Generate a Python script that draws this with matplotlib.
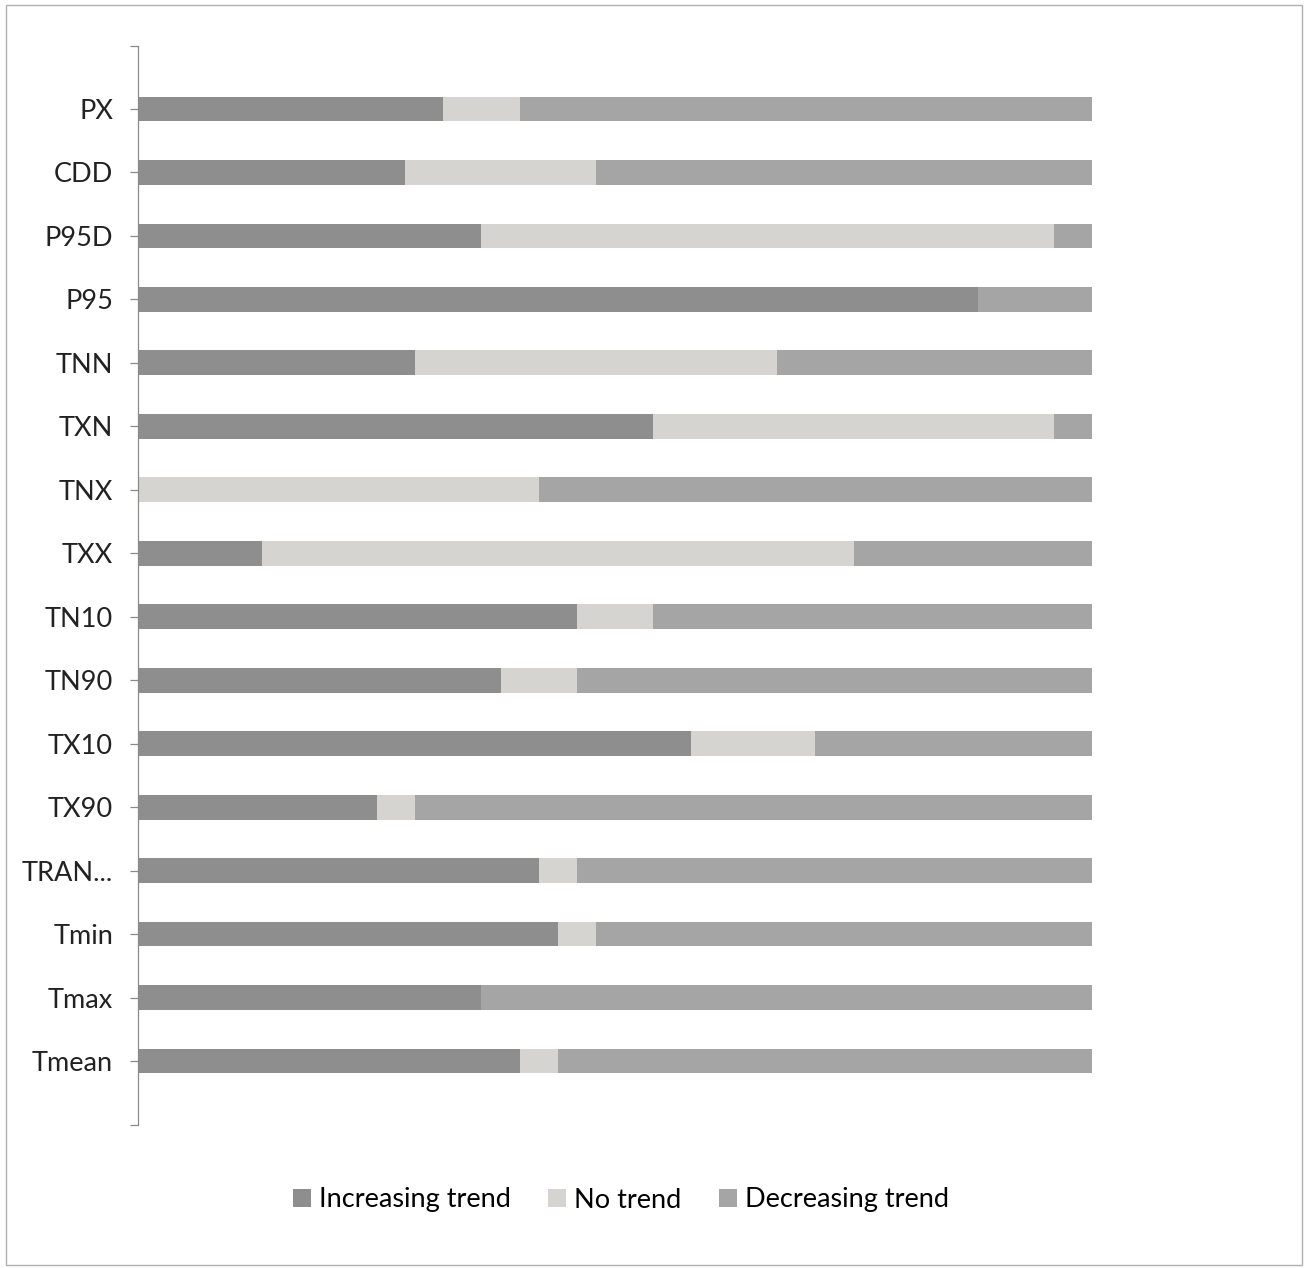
import matplotlib.pyplot as plt
from matplotlib.patches import Rectangle
import numpy as np

plt.rcParams["font.family"] = ["Lato", "DejaVu Sans"]

# share of stations (%) per index, top to bottom
indices = ["PX", "CDD", "P95D", "P95", "TNN", "TXN", "TNX", "TXX",
           "TN10", "TN90", "TX10", "TX90", "TRAN...", "Tmin", "Tmax", "Tmean"]
increasing = [32, 28, 36, 88, 29, 54, 0, 13, 46, 38, 58, 25, 42, 44, 36, 40]
no_trend = [8, 20, 60, 0, 38, 42, 42, 62, 8, 8, 13, 4, 4, 4, 0, 4]
decreasing = [60, 52, 4, 12, 33, 4, 58, 25, 46, 54, 29, 71, 54, 52, 64, 56]

colors = {"inc": "#8e8e8e", "none": "#d6d4d0", "dec": "#a5a5a5"}

fig = plt.figure(figsize=(13.07, 12.68), dpi=100)
ax = fig.add_axes([138 / 1307, 143.5 / 1268, (1092 - 138) / 1307, 1079 / 1268])

y = np.arange(len(indices))
inc = np.array(increasing, dtype=float)
non = np.array(no_trend, dtype=float)
dec = np.array(decreasing, dtype=float)
h = 0.39

ax.barh(y, inc, height=h, color=colors["inc"], label="Increasing trend")
ax.barh(y, non, left=inc, height=h, color=colors["none"], label="No trend")
ax.barh(y, dec, left=inc + non, height=h, color=colors["dec"], label="Decreasing trend")

ax.set_xlim(0, 100)
ax.set_ylim(len(indices), -1)
ax.set_yticks(y)
ax.set_yticklabels(indices, fontsize=19.5, color="#222222")
ax.set_yticks([-1, len(indices)], minor=True)
ax.tick_params(axis="y", which="both", length=6, width=0.9, color="#8a8a8a", pad=12)
ax.set_xticks([])

for side in ["top", "right", "bottom"]:
    ax.spines[side].set_visible(False)
ax.spines["left"].set_color("#8a8a8a")
ax.spines["left"].set_linewidth(0.9)

fig.legend(loc="center", bbox_to_anchor=(621 / 1307, 1 - 1200 / 1268), ncol=3,
           frameon=False, fontsize=19.5, handlelength=0.65, handleheight=0.65,
           handletextpad=0.3, columnspacing=1.4)

# thin frame around the whole chart
fig.patches.append(Rectangle((6 / 1307, 3 / 1268), 1296 / 1307, 1260 / 1268,
                             transform=fig.transFigure, fill=False,
                             edgecolor="#b0b0b0", linewidth=1.0))

fig.savefig("out.png", dpi=100)
